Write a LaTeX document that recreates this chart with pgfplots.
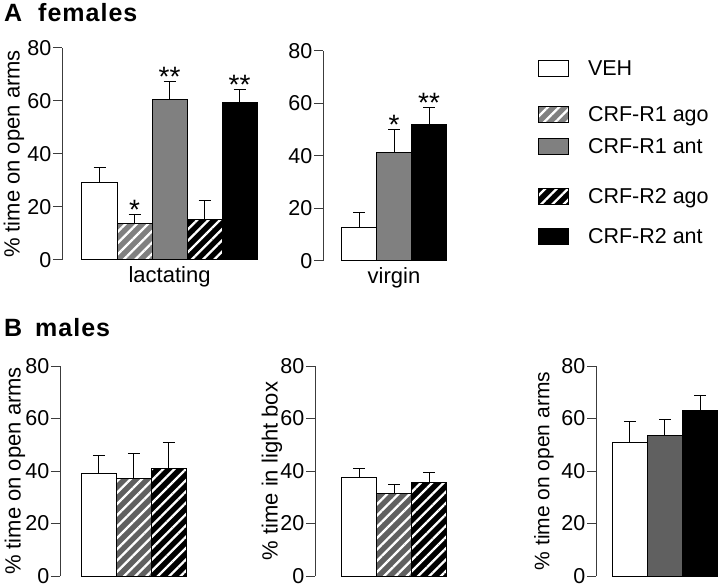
\documentclass[border=0pt]{standalone}
\usepackage{pgfplots}
\pgfplotsset{compat=1.18}
\usetikzlibrary{patterns.meta}
\usepackage{fontspec}
\setmainfont{Liberation Sans}
\newfontfamily\titlefont[LetterSpace=4]{Liberation Sans}
\definecolor{gA}{RGB}{128,128,128}
\definecolor{gB}{RGB}{96,96,96}
\definecolor{axc}{RGB}{60,60,60}
\tikzset{
  astk/.style={anchor=base, inner sep=0pt, yshift=-5pt, font=\fontsize{28}{30}\selectfont},
  xl/.style={anchor=north, inner sep=0pt, yshift=-6pt, font=\fontsize{22}{26}\selectfont},
  hatch/.style={postaction={pattern={Lines[angle=45, distance=8pt, line width=2.3pt]}, pattern color=white}},
}
\pgfplotsset{
  panel/.style={
    scale only axis, ymin=0, ymax=80, ytick={0,20,40,60,80},
    axis x line=none, axis y line*=left,
    y axis line style={line width=1pt, -, axc},
    ytick style={line width=1pt, axc},
    major tick length=9pt, tick align=outside,
    /pgf/number format/assume math mode=true,
    yticklabel style={font=\fontsize{21.5}{25}\selectfont, inner xsep=1.5pt, inner ysep=0pt},
    ylabel style={font=\fontsize{22}{26}\selectfont, at={(axis description cs:0,0.5)}, anchor=center, inner sep=0pt},
    clip=false, ybar, bar shift=0pt, bar width=1,
  },
  bx/.style={draw=black, line width=1pt, error bars/y dir=plus, error bars/y explicit,
    error bars/error bar style={line width=1pt, black},
    error bars/error mark options={rotate=90, mark size=6pt, line width=1pt, black}},
  veh/.style={bx, fill=white},
  raA/.style={bx, fill=gA, hatch},
  rnA/.style={bx, fill=gA},
  r2a/.style={bx, fill=black, hatch},
  r2n/.style={bx, fill=black},
  raB/.style={bx, fill=gB, hatch},
  rnB/.style={bx, fill=gB},
}
\newcommand\legitem[3]{%
\begin{axis}[hide axis, scale only axis, width=1pt, height=1pt, xmin=0, xmax=1, ymin=0, ymax=1,
  at={(538pt,#1pt)}, anchor=south west,
  legend style={draw=none, fill=none, inner sep=0pt, outer sep=0pt, at={(rel axis cs:0,0)}, anchor=west,
    font=\fontsize{21.5}{25}\selectfont, column sep=19pt, nodes={inner sep=0pt}},
  legend cell align=left,
  legend image code/.code={\draw[##1, line width=1pt] (0pt,-8pt) rectangle (30pt,8pt);}]
\addlegendimage{#2}
\addlegendentry{#3}
\end{axis}}
\begin{document}
\begin{tikzpicture}
\useasboundingbox (0,0) rectangle (720pt,587pt);
% titles
\node[anchor=base west, inner sep=0pt, font=\fontsize{25}{28}\selectfont\bfseries] at (4pt,565pt) {A\hspace{16pt}\titlefont\bfseries females};
\node[anchor=base west, inner sep=0pt, font=\fontsize{25}{28}\selectfont\bfseries] at (4pt,251pt) {B\hspace{13pt}\titlefont\bfseries males};
% A lactating
\begin{axis}[panel, at={(62pt,327pt)}, anchor=south west, height=212pt,
  xmin=-1.071, xmax=4.64, width=200pt, ylabel={\% time on open arms}, ylabel style={yshift=48pt}]
\addplot[veh] coordinates {(0,29.4) +- (0,5.6)};
\addplot[raA] coordinates {(1,13.6) +- (0,3.4)};
\addplot[rnA] coordinates {(2,60.4) +- (0,7.1)};
\addplot[r2a] coordinates {(3,15.4) +- (0,6.9)};
\addplot[r2n] coordinates {(4,59.6) +- (0,4.6)};
\node[astk] at (axis cs:1,17) {*};
\node[astk] at (axis cs:2,67.5) {**};
\node[astk] at (axis cs:4,64.2) {**};
\node[xl] at (axis cs:2,0) {lactating};
\end{axis}
% A virgin
\begin{axis}[panel, at={(323pt,326pt)}, anchor=south west, height=210pt,
  xmin=-1.029, xmax=2.7, width=130.5pt]
\addplot[veh] coordinates {(0,12.9) +- (0,5.7)};
\addplot[rnA] coordinates {(1,41.4) +- (0,8.6)};
\addplot[r2n] coordinates {(2,52.0) +- (0,6.6)};
\node[astk] at (axis cs:1,50) {*};
\node[astk] at (axis cs:2,58.6) {**};
\node[xl] at (axis cs:1,0) {virgin};
\end{axis}
% legend
\legitem{518}{fill=white}{VEH}
\legitem{472}{fill=gA, hatch}{CRF-R1 ago}
\legitem{440}{fill=gA}{CRF-R1 ant}
\legitem{390}{fill=black, hatch}{CRF-R2 ago}
\legitem{350}{fill=black}{CRF-R2 ant}
% B1
\begin{axis}[panel, at={(60pt,11pt)}, anchor=south west, height=210pt,
  xmin=-1.114, xmax=2.6, width=130pt, ylabel={\% time on open arms}, ylabel style={yshift=45pt}]
\addplot[veh] coordinates {(0,39.0) +- (0,7.0)};
\addplot[raB] coordinates {(1,37.3) +- (0,9.5)};
\addplot[r2a] coordinates {(2,40.8) +- (0,10.2)};
\end{axis}
% B2
\begin{axis}[panel, at={(315pt,11pt)}, anchor=south west, height=210pt,
  xmin=-1.257, xmax=2.6, width=135pt, ylabel={\% time in light box}, ylabel style={yshift=43pt}]
\addplot[veh] coordinates {(0,37.7) +- (0,3.3)};
\addplot[raB] coordinates {(1,31.6) +- (0,3.4)};
\addplot[r2a] coordinates {(2,35.8) +- (0,3.8)};
\end{axis}
% B3
\begin{axis}[panel, at={(596pt,11pt)}, anchor=south west, height=210pt,
  xmin=-0.971, xmax=2.5, width=121.5pt, ylabel={\% time on open arms},
  ylabel style={yshift=52pt, font=\fontsize{21}{25}\selectfont}]
\addplot[veh] coordinates {(0,51.0) +- (0,8.0)};
\addplot[rnB] coordinates {(1,53.7) +- (0,6.1)};
\addplot[r2n] coordinates {(2,63.2) +- (0,5.4)};
\end{axis}
\end{tikzpicture}
\end{document}
